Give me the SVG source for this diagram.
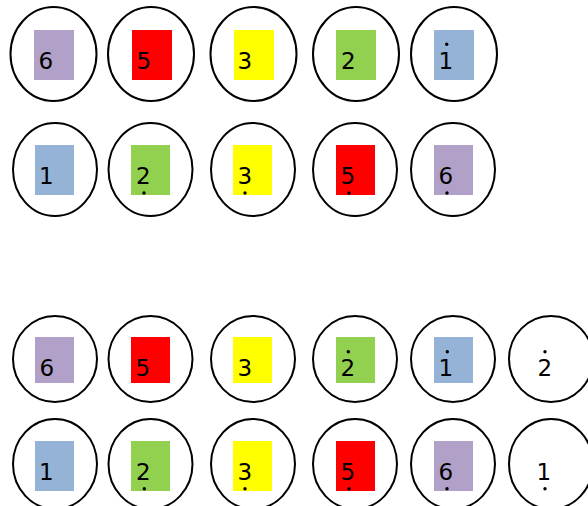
<svg xmlns="http://www.w3.org/2000/svg" width="588" height="506" viewBox="0 0 588 506">
<style>
.c{fill:#fff;stroke:#000;stroke-width:2}
.t{font-family:"DejaVu Sans",Verdana,sans-serif;font-size:23px;fill:#000}
.d{fill:#000}
.pu{fill:#B1A0C7}.re{fill:#FF0000}.ye{fill:#FFFF00}.gr{fill:#92D050}.bl{fill:#95B3D7}
</style>
<rect width="588" height="506" fill="#fff"/>
<g id="r1n1"><ellipse class="c" cx="53.5" cy="54" rx="43" ry="47"/><rect class="pu" x="34" y="30" width="40" height="50"/><text class="t" x="38.5" y="69">6</text></g>
<g id="r1n2"><ellipse class="c" cx="151" cy="54" rx="43" ry="47"/><rect class="re" x="132" y="30" width="40" height="50"/><text class="t" x="136.5" y="69">5</text></g>
<g id="r1n3"><ellipse class="c" cx="253.5" cy="54" rx="43" ry="47"/><rect class="ye" x="234" y="30" width="40" height="50"/><text class="t" x="237.5" y="69">3</text></g>
<g id="r1n4"><ellipse class="c" cx="356" cy="54" rx="43" ry="47"/><rect class="gr" x="336" y="30" width="40" height="50"/><text class="t" x="341" y="69">2</text></g>
<g id="r1n5"><ellipse class="c" cx="454" cy="54" rx="43" ry="47"/><rect class="bl" x="434" y="30" width="40" height="50"/><text class="t" x="438.5" y="69">1</text><circle class="d" cx="446.7" cy="44.3" r="1.7"/></g>

<g id="r2n1"><ellipse class="c" cx="55" cy="169.5" rx="42" ry="46.5"/><rect class="bl" x="35" y="145" width="39" height="50"/><text class="t" x="39" y="184">1</text></g>
<g id="r2n2"><ellipse class="c" cx="150.5" cy="169.5" rx="42" ry="46.5"/><rect class="gr" x="131" y="145" width="39" height="50"/><text class="t" x="136" y="184">2</text><circle class="d" cx="144" cy="193" r="1.7"/></g>
<g id="r2n3"><ellipse class="c" cx="253" cy="169.5" rx="42" ry="46.5"/><rect class="ye" x="233" y="145" width="39" height="50"/><text class="t" x="237.5" y="184">3</text><circle class="d" cx="245" cy="193" r="1.7"/></g>
<g id="r2n4"><ellipse class="c" cx="355" cy="169.5" rx="42" ry="46.5"/><rect class="re" x="336" y="145" width="39" height="50"/><text class="t" x="340.5" y="184">5</text><circle class="d" cx="349" cy="193" r="1.7"/></g>
<g id="r2n5"><ellipse class="c" cx="453" cy="169.5" rx="42" ry="46.5"/><rect class="pu" x="434" y="145" width="39" height="50"/><text class="t" x="438.5" y="184">6</text><circle class="d" cx="447" cy="193" r="1.7"/></g>

<g id="r3n1"><ellipse class="c" cx="55" cy="359" rx="42" ry="43"/><rect class="pu" x="35" y="337" width="39" height="46"/><text class="t" x="39.5" y="376">6</text></g>
<g id="r3n2"><ellipse class="c" cx="150.5" cy="359" rx="42" ry="43"/><rect class="re" x="131" y="337" width="39" height="46"/><text class="t" x="135.5" y="376">5</text></g>
<g id="r3n3"><ellipse class="c" cx="253" cy="359" rx="42" ry="43"/><rect class="ye" x="233" y="337" width="39" height="46"/><text class="t" x="237.5" y="376">3</text></g>
<g id="r3n4"><ellipse class="c" cx="355" cy="359" rx="42" ry="43"/><rect class="gr" x="336" y="337" width="39" height="46"/><text class="t" x="340.5" y="376">2</text><circle class="d" cx="348.3" cy="351.7" r="1.7"/></g>
<g id="r3n5"><ellipse class="c" cx="453" cy="359" rx="42" ry="43"/><rect class="bl" x="434" y="337" width="39" height="46"/><text class="t" x="438.5" y="376">1</text><circle class="d" cx="447.3" cy="351.7" r="1.7"/></g>
<g id="r3n6"><ellipse class="c" cx="551" cy="359" rx="42" ry="43"/><text class="t" x="537.5" y="376">2</text><circle class="d" cx="545" cy="351.7" r="1.7"/></g>

<g id="r4n1"><ellipse class="c" cx="55" cy="464" rx="42" ry="45"/><rect class="bl" x="35" y="441" width="39" height="50"/><text class="t" x="39" y="480">1</text></g>
<g id="r4n2"><ellipse class="c" cx="150.5" cy="464" rx="42" ry="45"/><rect class="gr" x="131" y="441" width="39" height="50"/><text class="t" x="136" y="480">2</text><circle class="d" cx="144.3" cy="488.7" r="1.7"/></g>
<g id="r4n3"><ellipse class="c" cx="253" cy="464" rx="42" ry="45"/><rect class="ye" x="233" y="441" width="39" height="50"/><text class="t" x="237.5" y="480">3</text><circle class="d" cx="245" cy="488.7" r="1.7"/></g>
<g id="r4n4"><ellipse class="c" cx="355" cy="464" rx="42" ry="45"/><rect class="re" x="336" y="441" width="39" height="50"/><text class="t" x="340.5" y="480">5</text><circle class="d" cx="349" cy="488.7" r="1.7"/></g>
<g id="r4n5"><ellipse class="c" cx="453" cy="464" rx="42" ry="45"/><rect class="pu" x="434" y="441" width="39" height="50"/><text class="t" x="438.5" y="480">6</text><circle class="d" cx="447" cy="488.7" r="1.7"/></g>
<g id="r4n6"><ellipse class="c" cx="551" cy="464" rx="42" ry="45"/><text class="t" x="536.5" y="480">1</text><circle class="d" cx="545" cy="488.7" r="1.7"/></g>
<g id="connectors"/>
</svg>
